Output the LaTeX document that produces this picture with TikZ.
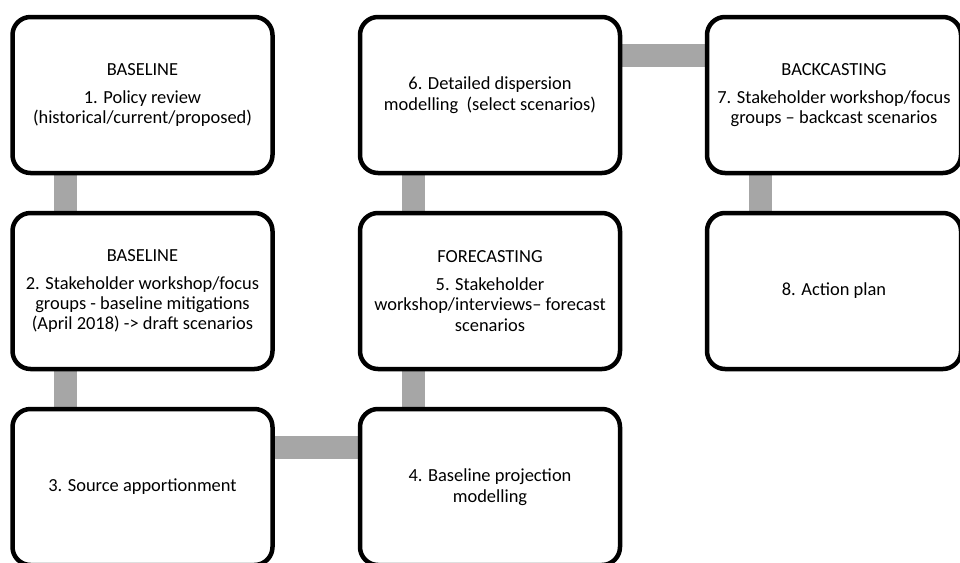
\documentclass[tikz,border=0pt]{standalone}
\usepackage{fontspec}
\setmainfont{Carlito}
\usetikzlibrary{backgrounds}

\begin{document}
\begin{tikzpicture}[
  stepbox/.style={draw,line width=4.5bp,rounded corners=18bp,fill=white,align=center,
    minimum width=260bp,minimum height=156bp,font=\fontsize{18.5}{20.5}\selectfont},
  link/.style={draw=black!35,line width=23bp}
]
\useasboundingbox (0,0) rectangle (960bp,-563bp);
\clip (0,0) rectangle (960bp,-563bp);

\node (B1) at (142.5bp,-95bp)[stepbox] {BASELINE\\[7.5bp]1. Policy review\\(historical/current/proposed)};
\node (B2) at (142.5bp,-291bp)[stepbox] {BASELINE\\[7.5bp]2. Stakeholder workshop/focus\\groups - baseline mitigations\\(April 2018) -> draft scenarios};
\node (B3) at (142.5bp,-487bp)[stepbox] {3. Source apportionment};
\node (B4) at (490bp,-487bp)[stepbox] {4. Baseline projection\\modelling};
\node (B5) at (490bp,-291bp)[stepbox] {FORECASTING\\[7.5bp]5. Stakeholder\\workshop/interviews-- forecast\\scenarios};
\node (B6) at (490bp,-95bp)[stepbox] {6. Detailed dispersion\\modelling\ \ (select scenarios)};
\node (B7) at (834bp,-95bp)[stepbox,minimum width=254bp] {BACKCASTING\\[7.5bp]7. Stakeholder workshop/focus\\groups -- backcast scenarios};
\node (B8) at (834bp,-291bp)[stepbox,minimum width=254bp] {8. Action plan};

\begin{scope}[on background layer]
\draw [link] ([xshift=55bp]B1.south west) -- ([xshift=55bp]B2.north west);
\draw [link] ([xshift=55bp]B2.south west) -- ([xshift=55bp]B3.north west);
\draw [link] ([yshift=-41bp]B3.north east) -- ([yshift=-41bp]B4.north west);
\draw [link] ([xshift=56bp]B4.north west) -- ([xshift=56bp]B5.south west);
\draw [link] ([xshift=56bp]B5.north west) -- ([xshift=56bp]B6.south west);
\draw [link] ([yshift=-41bp]B6.north east) -- ([yshift=-41bp]B7.north west);
\draw [link] ([xshift=56bp]B7.south west) -- ([xshift=56bp]B8.north west);
\end{scope}
\end{tikzpicture}
\end{document}
